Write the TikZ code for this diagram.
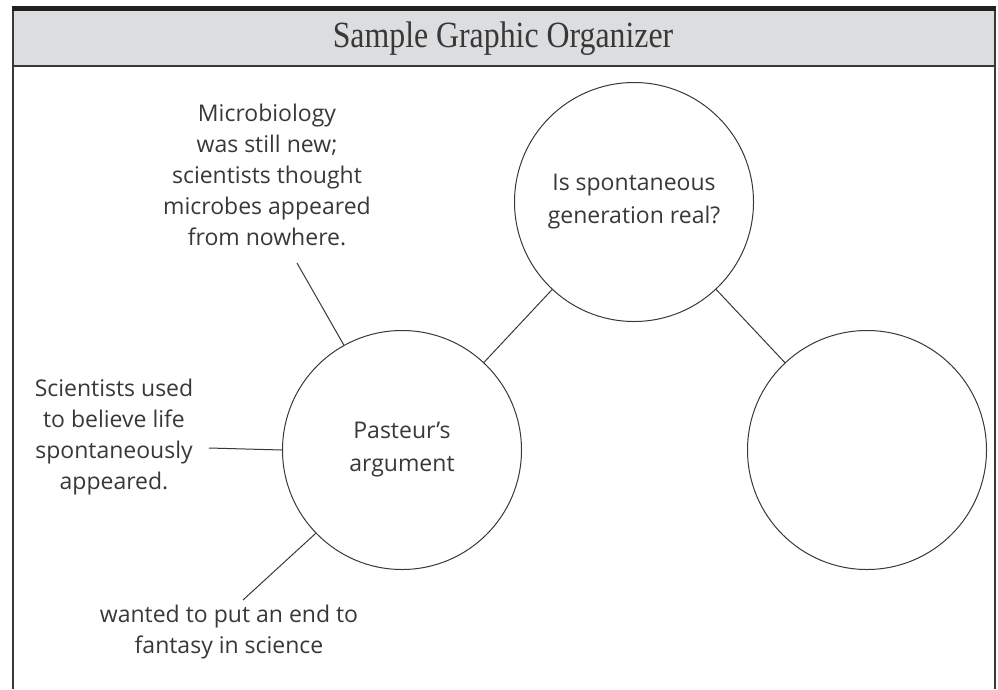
\documentclass[tikz,border=0pt]{standalone}
\usepackage{fontspec}
\setmainfont{Open Sans}
\newfontfamily\titlefont[FakeStretch=0.86]{Liberation Serif}
\usepackage{xcolor}
\usepackage{tikz}
\definecolor{inkgray}{HTML}{383838}
\definecolor{headgray}{HTML}{DCDDDF}
\definecolor{bargray}{HTML}{231F20}
\tikzset{every node/.append style={font=\fontsize{23}{31}\selectfont, text=inkgray}}
\tikzset{
  bubble/.style={draw=inkgray, circle, line width=1pt, minimum size=239pt, inner sep=0pt, align=center, font=\fontsize{23}{33}\selectfont},
  note/.style={align=center, inner sep=0pt},
  spoke/.style={draw=inkgray, line width=1pt},
  frameline/.style={draw=inkgray, line width=2pt}
}

\begin{document}
\begin{tikzpicture}[x=1pt, y=-1pt]
    \useasboundingbox (0,0) rectangle (998,689);
    % header band and frame
    \fill[headgray] (12,11) rectangle (995,66);
    \fill[bargray] (12,6) rectangle (996,11);
    \draw[frameline] (12,66) -- (995,66);
    \draw[frameline] (12.5,11) -- (12.5,689);
    \draw[frameline] (994.5,11) -- (994.5,689);
    \node[font=\titlefont\fontsize{37}{37}\selectfont] (title) at (503,39) {Sample Graphic Organizer};

    % circles
    \node[bubble] (pas) at (402,450) {Pasteur’s\\argument};
    \node[bubble] (quest) at (634,202) {Is spontaneous\\generation real?};
    \node[bubble] (blank) at (867,450) {};

    % notes round Pasteur
    \node[note] (micro) at (267,175) {Microbiology\\was still new;\\scientists thought\\microbes appeared\\from nowhere.};
    \node[note] (belief) at (114,437) {Scientists used\\to believe life\\spontaneously\\appeared.};
    \node[note] (fantasy) at (229,632) {wanted to put an end to\\fantasy in science};
    \coordinate (microend) at (297,263);
    \coordinate (beliefend) at (209,448);
    \coordinate (fantasyend) at (243,600);

    \draw[spoke] (microend) -- (pas.119);
    \draw[spoke] (beliefend) -- (pas.west);
    \draw[spoke] (fantasyend) -- (pas.224);
    \draw[spoke] (pas) -- (quest);
    \draw[spoke] (quest) -- (blank);
\end{tikzpicture}
\end{document}
